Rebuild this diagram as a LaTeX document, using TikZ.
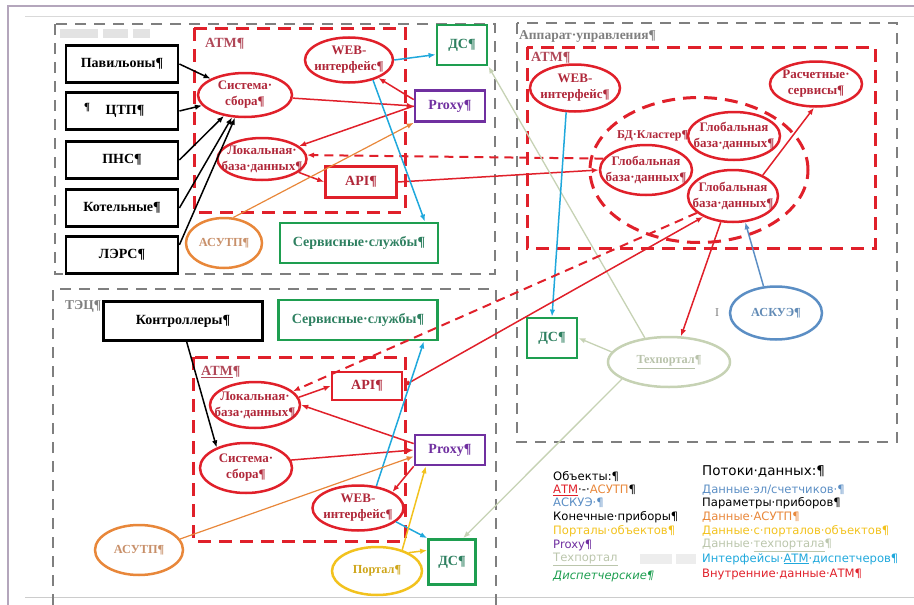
\documentclass[tikz,border=0pt]{standalone}
\usepackage{fontspec}
\setmainfont{Liberation Serif}
\newfontfamily\legfont{DejaVu Sans}
\usetikzlibrary{shapes.geometric,arrows.meta}
\definecolor{rd}{HTML}{E0202A}
\definecolor{rdtxt}{HTML}{B0283A}
\definecolor{gr}{HTML}{7F7F7F}
\definecolor{grn}{HTML}{1E9E50}
\definecolor{grntxt}{HTML}{2E8060}
\definecolor{pur}{HTML}{7030A0}
\definecolor{org}{HTML}{E8873A}
\definecolor{orgtxt}{HTML}{C8906A}
\definecolor{cyn}{HTML}{1FA8DC}
\definecolor{stb}{HTML}{5B8EC4}
\definecolor{ylw}{HTML}{F2C21E}
\definecolor{pale}{HTML}{C6D2B4}
\definecolor{lil}{HTML}{B4A6BC}
\definecolor{atmtxt}{HTML}{B04858}
\begin{document}
\begin{tikzpicture}[x=1pt,y=-1pt,
  grp/.style={draw=gr, line width=2.4pt, dash pattern=on 11pt off 8pt},
  atmbox/.style={draw=rd, line width=3pt, dash pattern=on 13pt off 8pt},
  bf/.style={font=\bfseries\fontsize{14}{16}\selectfont},
  blk/.style={bf, draw=black, line width=2.8pt, minimum width=112pt, minimum height=37pt, inner sep=0pt},
  rel/.style={ellipse, draw=rd, line width=2.5pt, inner sep=0pt},
  rtx/.style={text=rdtxt, align=center, font=\bfseries\fontsize{13}{16}\selectfont},
  gbx/.style={bf, draw=grn, line width=2.8pt, inner sep=0pt, text=grntxt},
  pbx/.style={bf, draw=pur, line width=2.6pt, inner sep=0pt, text=pur, minimum width=70pt, minimum height=31pt},
  rbx/.style={bf, draw=rd, line width=2.6pt, inner sep=0pt, text=rdtxt},
  oel/.style={ellipse, draw=org, line width=2.5pt, inner sep=0pt},
  etx/.style={font=\bfseries\fontsize{12.3}{14}\selectfont},
  lbl/.style={anchor=west, inner sep=0pt, font=\bfseries\fontsize{13.5}{15}\selectfont},
  con/.style={line width=1.5pt, -{Latex[length=7pt,width=5.5pt]}},
  conb/.style={line width=1.5pt, {Latex[length=7pt,width=5.5pt]}-{Latex[length=7pt,width=5.5pt]}},
  dcon/.style={line width=2pt, dash pattern=on 9pt off 6pt, -{Latex[length=7pt,width=5.5pt]}},
  leg/.style={anchor=west, inner sep=0pt, font=\legfont\fontsize{11.6}{13}\selectfont}
]
\useasboundingbox (0,0) rectangle (914,605);
% outer frame
\draw[lil, line width=2pt] (8,605) -- (8,6) -- (914,6);
\draw[gray!30, line width=0.8pt] (25,16) -- (914,16);
\draw[gray!40, line width=1pt] (25,597) -- (914,597);
% blurred text blocks
\fill[gray!22] (60,29) rectangle (98,38);
\fill[gray!22] (103,29) rectangle (128,38);
\fill[gray!22] (133,29) rectangle (150,38);
\fill[gray!14] (640,554) rectangle (672,564);
\fill[gray!14] (676,554) rectangle (696,564);
% group frames
\draw[grp] (55,24) rectangle (495,274);
\draw[grp] (53,605) -- (53,289) -- (496,289) -- (496,605);
\draw[grp] (517,23) rectangle (897,442);
\draw[atmbox] (194,28) rectangle (405,212);
\draw[atmbox] (527,47) rectangle (875,248);
\draw[atmbox] (193,357) rectangle (405,541);
% group labels
\node[lbl, text=atmtxt, font=\bfseries\fontsize{14}{16}\selectfont] (atm1) at (205,44) {ATM¶};
\node[lbl, text=atmtxt, font=\bfseries\fontsize{14}{16}\selectfont] (atm2) at (531,58) {ATM¶};
\node[lbl, text=atmtxt, font=\bfseries\fontsize{14}{16}\selectfont] (atm3) at (201,372) {\underline{ATM}¶};
\node[lbl, text=gr] (lapp) at (519,37) {Аппарат·управления¶};
\node[lbl, text=gr] (ltec) at (65,306) {ТЭЦ¶};
\node[lbl, text=gr, font=\fontsize{12}{13}\selectfont] (lI) at (715,313) {I};
\node[lbl, font=\bfseries\fontsize{11}{12}\selectfont] (lpil) at (84,108) {¶};

% ---- top-left group
\node[blk] (pav) at (122,64) {Павильоны¶};
\node[blk] (ctp) at (122,111) {\hspace*{6pt}ЦТП¶};
\node[blk] (pns) at (122,160) {ПНС¶};
\node[blk] (kot) at (122,208) {Котельные¶};
\node[blk] (lers) at (122,255) {ЛЭРС¶};
\node[rel, minimum width=94pt, minimum height=44pt, label={[rtx]center:{Система·\\сбора¶}}] (sys1) at (245,95) {};
\node[rel, minimum width=88pt, minimum height=45pt, label={[rtx]center:{WEB-\\интерфейс¶}}] (web1) at (349,60) {};
\node[rel, minimum width=89pt, minimum height=42pt, label={[rtx]center:{Локальная·\\база·данных¶}}] (loc1) at (262,159) {};
\node[rbx, minimum width=71pt, minimum height=31pt] (api1) at (361,182) {API¶};
\node[gbx, minimum width=50pt, minimum height=40pt] (ds1) at (462,45) {ДС¶};
\node[pbx] (proxy1) at (450,106) {Proxy¶};
\node[gbx, minimum width=158pt, minimum height=40pt] (serv1) at (359,243) {Сервисные·службы¶};
\node[oel, minimum width=76pt, minimum height=50pt, label={[etx, text=orgtxt]center:АСУТП¶}] (asutp1) at (224,243) {};

% ---- right group
\node[rel, minimum width=90pt, minimum height=47pt, label={[rtx]center:{WEB-\\интерфейс¶}}] (web2) at (575,88) {};
\node[rel, minimum width=92pt, minimum height=45pt, label={[rtx]center:{Расчетные·\\сервисы¶}}] (calc) at (816,84) {};
\node[ellipse, draw=rd, line width=3pt, dash pattern=on 13pt off 8pt, minimum width=218pt, minimum height=145pt] (cluster) at (699,170) {};
\node[rtx, anchor=west, inner sep=0pt, font=\bfseries\fontsize{12}{14}\selectfont] (lclus) at (617,136) {БД·Кластер¶};
\node[rel, minimum width=92pt, minimum height=48pt, label={[rtx]center:{Глобальная\\база·данных¶}}] (gdb1) at (734,136) {};
\node[rel, minimum width=92pt, minimum height=50pt, label={[rtx]center:{Глобальная\\база·данных¶}}] (gdb2) at (646,170) {};
\node[rel, minimum width=90pt, minimum height=52pt, label={[rtx]center:{Глобальная\\база·данных¶}}] (gdb3) at (733,196) {};
\node[gbx, minimum width=50pt, minimum height=40pt] (ds2) at (552,338) {ДС¶};
\node[ellipse, draw=pale, line width=2.5pt, inner sep=0pt, minimum width=122pt, minimum height=50pt, label={[etx, text=pale!80!gray]center:\underline{Техпортал}¶}] (tech) at (669,362) {};
\node[ellipse, draw=stb, line width=2.5pt, inner sep=0pt, minimum width=92pt, minimum height=53pt, label={[etx, text=stb!80!gray]center:АСКУЭ¶}] (askue) at (776,313) {};

% ---- lower group
\node[blk, minimum width=159pt, minimum height=39pt] (ctrl) at (183,321) {Контроллеры¶};
\node[gbx, minimum width=159pt, minimum height=40pt] (serv2) at (358,320) {Сервисные·службы¶};
\node[rel, minimum width=90pt, minimum height=46pt, label={[rtx]center:{Локальная·\\база·данных¶}}] (loc2) at (255,405) {};
\node[rel, minimum width=92pt, minimum height=50pt, label={[rtx]center:{Система·\\сбора¶}}] (sys2) at (246,468) {};
\node[rbx, minimum width=70pt, minimum height=28pt] (api2) at (367,386) {API¶};
\node[pbx, minimum height=30pt] (proxy2) at (450,450) {Proxy¶};
\node[rel, minimum width=91pt, minimum height=45pt, label={[rtx]center:{WEB-\\интерфейс¶}}] (web3) at (358,508) {};
\node[gbx, minimum width=47pt, minimum height=45pt] (ds3) at (452,562) {ДС¶};
\node[ellipse, draw=ylw, line width=2.5pt, inner sep=0pt, minimum width=90pt, minimum height=48pt, label={[etx, text=ylw!85!black]center:Портал¶}] (portal) at (377,571) {};
\node[oel, minimum width=88pt, minimum height=50pt, label={[etx, text=orgtxt]center:АСУТП¶}] (asutp2) at (139,550) {};

% ---- connectors top-left
\draw[con] (pav.east) -- (sys1);
\draw[con] (ctp.east) -- (sys1);
\draw[con] (pns.east) -- (sys1);
\draw[con] (kot.east) -- (sys1);
\draw[con] (lers.10) -- (sys1);
\draw[con, rd] (sys1) -- (proxy1.west);
\draw[con, rd] (proxy1.170) -- (web1);
\draw[con, rd] (proxy1.west) -- (loc1);
\draw[con, rd] (loc1.-20) -- (api1.west);
\draw[dcon, rd] (gdb2.165) -- (loc1.5);
\draw[con, rd] (api1.east) -- (gdb2.west);
\draw[con, org, line width=1.2pt] (asutp1.70) -- (proxy1.south west);
\draw[con, cyn] (web1.east) -- (ds1.200);
\draw[con, cyn] (web1.-40) -- (serv1.18);
\draw[con, pale, line width=1.3pt] (tech.135) -- (ds1.south east);
% ---- connectors right
\draw[con, cyn] (web2.250) -- (ds2.north);
\draw[con, rd] (gdb3.35) -- (calc.265);
\draw[con, rd] (gdb3.245) -- (tech.65);
\draw[con, stb] (askue.115) -- (gdb3.-65);
\draw[conb, rd] (api2.east) -- (gdb3.215);
\draw[dcon, rd] (gdb3.205) -- (loc2.20);
\draw[con, pale, line width=1.3pt] (tech.170) -- (ds2.east);
\draw[con, pale, line width=1.3pt] (tech.200) -- (ds3.65);
% ---- connectors lower
\draw[con] (ctrl.-80) -- (sys2.145);
\draw[con, rd] (loc2.10) -- (api2.west);
\draw[con, rd] (proxy2.170) -- (loc2.east);
\draw[con, rd] (sys2.10) -- (proxy2.west);
\draw[con, rd] (proxy2.south west) -- (web3.25);
\draw[con, cyn] (web3.50) -- (serv2.-18);
\draw[con, cyn] (web3.-20) -- (ds3.north west);
\draw[con, org, line width=1.2pt] (asutp2.15) -- (proxy2.190);
\draw[con, ylw] (portal.40) -- (proxy2.214);
\draw[con, ylw] (portal.30) -- (ds3.155);

% ---- legend
\node[leg] (lg1) at (553,477) {Объекты:¶};
\node[leg] (lg2) at (553,490) {\textcolor{rd}{\underline{АТМ}}·-·\textcolor{org}{АСУТП}¶};
\node[leg, text=stb] (lg3) at (553,503) {АСКУЭ·¶};
\node[leg] (lg4) at (553,517) {Конечные·приборы¶};
\node[leg, text=ylw] (lg5) at (553,531) {Порталы·объектов¶};
\node[leg, text=pur] (lg6) at (553,545) {Proxy¶};
\node[leg, text=pale!85!gray] (lg7) at (553,559) {\underline{Техпортал}};
\node[leg, text=grn] (lg8) at (553,576) {\itshape Диспетчерские¶};
\node[leg, font=\legfont\fontsize{13.5}{15}\selectfont] (lr0) at (702,472) {Потоки·данных:¶};
\node[leg, text=stb] (lr1) at (702,490) {Данные·эл/счетчиков·¶};
\node[leg] (lr2) at (702,503) {Параметры·приборов¶};
\node[leg, text=org] (lr3) at (702,517) {Данные·АСУТП¶};
\node[leg, text=ylw] (lr4) at (702,531) {Данные·с·порталов·объектов¶};
\node[leg, text=pale!85!gray] (lr5) at (702,545) {Данные·\underline{техпортала}¶};
\node[leg, text=cyn] (lr6) at (702,559) {Интерфейсы·\underline{АТМ}·диспетчеров¶};
\node[leg, text=rd] (lr7) at (702,574) {Внутренние·данные·АТМ¶};
\end{tikzpicture}
\end{document}
